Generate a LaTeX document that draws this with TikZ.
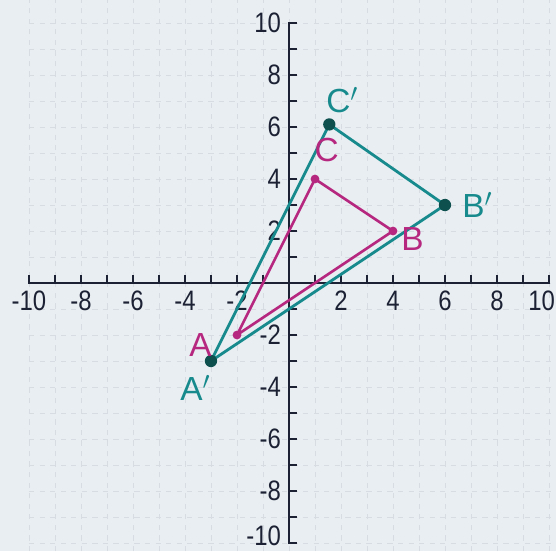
\documentclass[tikz,border=0pt]{standalone}
\usepackage{fontspec}
\setmainfont{Liberation Sans}
\definecolor{paper}{RGB}{233,238,242}
\definecolor{gridc}{RGB}{214,220,226}
\definecolor{axisc}{RGB}{28,34,52}
\definecolor{tealc}{RGB}{22,138,140}
\definecolor{magc}{RGB}{182,40,128}
\definecolor{dotc}{RGB}{14,80,78}
\tikzset{
  axisline/.style={axisc,line width=1.6pt},
  tickline/.style={axisc,line width=1.3pt},
  numlab/.style={axisc,font=\fontsize{16}{18}\selectfont,inner sep=0pt},
  imgtri/.style={tealc,line width=1.6pt,line join=round},
  pretri/.style={magc,line width=1.5pt,line join=round},
  imgdot/.style={circle,fill=dotc,inner sep=0pt,minimum size=7pt},
  predot/.style={circle,fill=magc,inner sep=0pt,minimum size=5pt},
  imglab/.style={tealc,font=\fontsize{19}{22}\selectfont},
  prelab/.style={magc,font=\fontsize{19}{22}\selectfont},
}
\begin{document}
\begin{tikzpicture}[x=0.52cm,y=0.52cm]
\fill[paper] (-11.115,-10.31) rectangle (10.27,10.885);
\useasboundingbox (-11.115,-10.31) rectangle (10.27,10.885);
% faint paper grid
\draw[gridc,line width=0.5pt,dash pattern=on 3pt off 3pt] (-10,-10.31) grid[step=1] (10.27,10.885);
% axes
\draw[axisline] (-10,0.3) -- (-10,0) -- (10,0) -- (10,0.3);
\draw[axisline] (0.3,10) -- (0,10) -- (0,-10) -- (0.3,-10);
\foreach \i in {-9,...,9} {
  \draw[tickline] (\i,0) -- (\i,0.3);
  \draw[tickline] (0,\i) -- (0.3,\i);
}
\foreach \i in {-10,-8,-6,-4,-2,2,4,6,8} {
  \node[numlab] (x\i) at (\i,-0.68) {\scalebox{0.85}[1]{\i}};
}
\node[numlab] (x10) at (9.72,-0.68) {\scalebox{0.85}[1]{10}};
\foreach \i in {-8,-6,-4,-2,2,4,6,8,10} {
  \node[numlab,anchor=east] (y\i) at (-0.3,\i) {\scalebox{0.85}[1]{\i}};
}
\node[numlab,anchor=east] (y-10) at (-0.3,-9.72) {\scalebox{0.85}[1]{-10}};
% points
\coordinate (A) at (-2,-2);
\coordinate (B) at (4,2);
\coordinate (C) at (1,4);
\coordinate (A1) at (-3,-3);
\coordinate (B1) at (6,3);
\coordinate (C1) at (1.55,6.1);
% image triangle
\draw[imgtri] (A1) -- (B1) -- (C1) -- cycle;
% pre-image triangle
\draw[pretri] (A) -- (B) -- (C) -- cycle;
\node[predot] (dA) at (A) {};
\node[predot] (dB) at (B) {};
\node[predot] (dC) at (C) {};
\node[imgdot] (dA1) at (A1) {};
\node[imgdot] (dB1) at (B1) {};
\node[imgdot] (dC1) at (C1) {};
% labels
\node[prelab] (lA) at (-3.4,-2.4) {A};
\node[prelab] (lB) at (4.75,1.7) {B};
\node[prelab] (lC) at (1.45,5.1) {C};
\node[imglab] (lA1) at (-3.6,-4.05) {A$'$};
\node[imglab] (lB1) at (7.25,3.0) {B$'$};
\node[imglab] (lC1) at (2.05,7.05) {C$'$};
\end{tikzpicture}
\end{document}
